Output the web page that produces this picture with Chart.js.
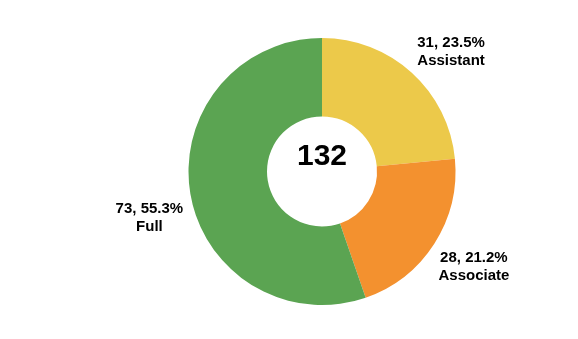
<!DOCTYPE html>
<html>
  <head>
    <script src="https://cdn.jsdelivr.net/npm/chart.js"></script>
    <style>
      body { margin: 0; background: #fff; }
    </style>
  </head>
  <body>
    <canvas id="donut" width="578" height="339"></canvas>
  </body>
  <script>
    var categories = ["Assistant", "Associate", "Full"];
    var counts = [31, 28, 73];
    var colors = ["#ECC94A", "#F3912F", "#5BA452"];

    // small angle tweaks (degrees) so the labels sit where the original puts them
    var labelTurn = [4.2, -1.3, -4.6];

    var total = counts.reduce(function(a, b) { return a + b; }, 0);

    // draws the "count, pct%" + name labels outside each slice and the total in the middle
    var labelPlugin = {
      id: "sliceLabels",
      afterDraw: function(chart) {
        var ctx = chart.ctx;
        var meta = chart.getDatasetMeta(0);
        ctx.save();
        ctx.fillStyle = "#000";
        ctx.textAlign = "center";
        ctx.textBaseline = "middle";
        meta.data.forEach(function(arc, i) {
          var mid = (arc.startAngle + arc.endAngle) / 2 + labelTurn[i] * Math.PI / 180;
          var r = arc.outerRadius + 44.5;
          var x = arc.x + Math.cos(mid) * r;
          var y = arc.y + Math.sin(mid) * r + 2.5;
          var pct = (counts[i] / total * 100).toFixed(1);
          ctx.font = "bold 15px 'Liberation Sans', Arial, sans-serif";
          ctx.fillText(counts[i] + ", " + pct + "%", x, y - 9);
          ctx.fillText(categories[i], x, y + 9);
        });
        var c = meta.data[0];
        ctx.font = "bold 30px 'Liberation Sans', Arial, sans-serif";
        ctx.fillText(String(total), c.x, c.y - 15);
        ctx.restore();
      }
    };

    new Chart(document.getElementById("donut"), {
      type: "doughnut",
      data: {
        labels: categories,
        datasets: [{
          data: counts,
          backgroundColor: colors,
          borderWidth: 0
        }]
      },
      options: {
        responsive: false,
        animation: false,
        cutout: "41.2%",
        layout: { padding: { top: 38, bottom: 34, left: 100, right: 34 } },
        plugins: {
          legend: { display: false },
          tooltip: { enabled: false }
        }
      },
      plugins: [labelPlugin]
    });
  </script>
</html>
